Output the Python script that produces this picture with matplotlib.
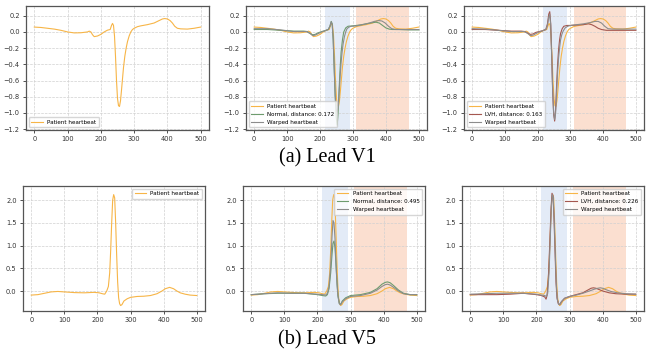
import matplotlib
matplotlib.use("Agg")
import matplotlib.pyplot as plt

# ---------------- data ----------------
v1_pat_x = [0,20,40,60,80,100,120,140,160,165,170,175,180,190,200,210,220,228,232,235,238,241,244,247,250,253,256,259,262,265,268,272,276,280,285,290,295,300,310,320,340,360,375,385,392,400,408,415,422,430,440,460,480,500]
v1_pat_y = [0.06,0.055,0.045,0.035,0.02,0.0,-0.012,-0.01,0.0,0.01,0.0,-0.035,-0.058,-0.05,-0.03,0.0,0.022,0.03,0.08,0.105,0.08,-0.05,-0.3,-0.6,-0.82,-0.91,-0.92,-0.85,-0.72,-0.58,-0.44,-0.3,-0.2,-0.12,-0.05,0.0,0.03,0.045,0.065,0.075,0.09,0.11,0.14,0.16,0.165,0.16,0.14,0.11,0.07,0.045,0.038,0.035,0.045,0.06]

v1_norm_x = [0,40,80,120,150,160,170,178,185,195,205,215,225,230,234,237,240,243,246,249,252,255,258,261,264,268,272,278,285,300,320,340,360,370,380,390,400,410,420,440,470,500]
v1_norm_y = [0.03,0.03,0.02,0.01,0.01,0.005,-0.02,-0.035,-0.03,-0.01,0.005,0.015,0.03,0.07,0.13,0.1,-0.1,-0.45,-0.8,-1.05,-1.15,-1.0,-0.7,-0.45,-0.25,-0.1,0.0,0.05,0.07,0.075,0.085,0.1,0.115,0.12,0.11,0.08,0.05,0.035,0.03,0.03,0.025,0.025]

v1_nwarp_x = [0,40,80,120,150,160,170,178,185,195,205,215,225,230,234,237,240,243,246,249,252,255,258,261,264,267,270,274,278,282,288,295,310,330,350,365,378,388,398,408,418,430,460,500]
v1_nwarp_y = [0.04,0.04,0.025,0.005,0.005,0.005,-0.02,-0.045,-0.04,-0.02,0.0,0.015,0.03,0.07,0.125,0.09,-0.1,-0.45,-0.78,-0.95,-0.99,-0.93,-0.75,-0.55,-0.38,-0.25,-0.15,-0.06,0.0,0.04,0.06,0.07,0.075,0.09,0.11,0.13,0.14,0.135,0.11,0.07,0.04,0.03,0.03,0.03]

v1_lvh_x = [0,40,80,120,150,160,170,178,186,195,205,215,225,230,234,237,240,243,246,249,252,255,258,261,264,267,270,275,280,290,300,320,340,355,365,375,385,395,410,440,470,500]
v1_lvh_y = [0.03,0.03,0.02,0.01,0.01,0.005,-0.015,-0.03,-0.025,-0.005,0.005,0.015,0.03,0.1,0.22,0.25,0.1,-0.3,-0.75,-1.02,-1.1,-0.95,-0.65,-0.4,-0.22,-0.1,-0.02,0.04,0.07,0.08,0.08,0.085,0.09,0.1,0.09,0.07,0.045,0.03,0.02,0.02,0.02,0.02]

v1_lwarp_x = [0,40,80,120,150,160,170,178,186,195,205,215,225,230,234,237,240,243,246,249,252,255,258,261,264,267,270,274,278,284,292,300,320,340,360,375,385,395,405,415,430,460,500]
v1_lwarp_y = [0.04,0.035,0.02,0.005,0.005,0.005,-0.02,-0.045,-0.04,-0.02,0.0,0.015,0.03,0.08,0.18,0.22,0.08,-0.3,-0.72,-1.0,-1.08,-1.0,-0.75,-0.5,-0.32,-0.2,-0.1,-0.03,0.01,0.05,0.07,0.08,0.09,0.1,0.115,0.13,0.13,0.11,0.07,0.04,0.035,0.035,0.035]

v5_pat_x = [0,20,40,60,80,100,130,160,190,205,215,222,228,233,237,240,243,246,249,252,255,258,261,264,267,270,274,280,290,300,320,340,360,380,395,405,418,430,440,450,465,480,500]
v5_pat_y = [-0.09,-0.08,-0.05,-0.02,-0.01,-0.02,-0.035,-0.04,-0.03,-0.04,-0.06,-0.07,0.0,0.1,0.4,0.9,1.5,2.0,2.12,2.05,1.5,0.8,0.2,-0.15,-0.28,-0.32,-0.3,-0.22,-0.17,-0.14,-0.12,-0.115,-0.1,-0.06,0.0,0.05,0.08,0.05,0.0,-0.04,-0.07,-0.09,-0.1]

v5_norm_x = [0,40,80,120,160,200,215,225,230,235,240,244,247,250,253,256,259,262,266,270,275,285,300,330,360,380,395,405,412,420,430,445,460,480,500]
v5_norm_y = [-0.08,-0.06,-0.05,-0.05,-0.05,-0.08,-0.1,-0.11,-0.08,0.05,0.4,0.8,1.05,1.1,0.95,0.6,0.2,-0.1,-0.27,-0.3,-0.22,-0.15,-0.1,-0.08,-0.03,0.05,0.15,0.19,0.2,0.18,0.12,0.02,-0.05,-0.08,-0.08]

v5_nwarp_x = [0,40,80,120,160,200,215,225,230,235,240,244,247,250,253,256,259,262,266,270,275,285,300,330,360,380,395,405,412,420,430,445,460,480,500]
v5_nwarp_y = [-0.08,-0.06,-0.04,-0.05,-0.05,-0.07,-0.08,-0.09,-0.05,0.1,0.55,1.2,1.55,1.5,1.15,0.6,0.15,-0.12,-0.28,-0.3,-0.24,-0.17,-0.12,-0.1,-0.05,0.02,0.1,0.14,0.15,0.13,0.08,0.0,-0.06,-0.08,-0.08]

v5_lvh_x = [0,40,80,120,160,200,215,225,229,232,236,240,244,247,250,253,256,259,262,266,270,275,285,300,320,340,355,365,372,380,390,400,420,440,470,500]
v5_lvh_y = [-0.08,-0.08,-0.08,-0.07,-0.05,-0.08,-0.1,-0.13,-0.18,-0.1,0.3,1.0,1.8,2.15,2.1,1.6,0.9,0.2,-0.15,-0.28,-0.3,-0.24,-0.16,-0.12,-0.08,-0.04,0.02,0.06,0.07,0.06,0.03,0.0,-0.04,-0.06,-0.07,-0.07]

v5_lwarp_x = [0,40,80,120,160,200,215,225,230,234,238,242,245,248,251,254,257,260,263,267,271,276,285,300,320,340,360,375,385,393,400,410,425,445,470,500]
v5_lwarp_y = [-0.07,-0.06,-0.05,-0.05,-0.05,-0.07,-0.09,-0.1,-0.12,-0.05,0.4,1.2,1.85,2.12,2.05,1.5,0.8,0.15,-0.18,-0.29,-0.3,-0.23,-0.16,-0.12,-0.09,-0.05,0.0,0.04,0.06,0.07,0.06,0.03,-0.01,-0.04,-0.06,-0.07]

qrs_span = (215, 291)
t_span = (310, 470)
dist_v1 = [0.172, 0.163]
dist_v5 = [0.495, 0.226]
captions = ["(a) Lead V1", "(b) Lead V5"]

# ---------------- style ----------------
C_PAT = "#f7b547"
C_NORM = "#6e9c6e"
C_LVH = "#a5574f"
C_WARP = "#8c8c8c"
C_BLUE = "#e3ebf7"
C_ORANGE = "#fbdfd0"

fig = plt.figure(figsize=(6.54, 3.58), dpi=100)
W, H = 654, 358

def mk_ax(l, t, r, b):
    return fig.add_axes([l / W, 1 - b / H, (r - l) / W, (b - t) / H])

def style(ax, ylim, yticks):
    ax.set_xlim(-25, 525)
    ax.set_ylim(*ylim)
    ax.set_xticks([0, 100, 200, 300, 400, 500])
    ax.set_yticks(yticks)
    ax.tick_params(labelsize=4.8, length=2.5, width=0.6, pad=2, colors="#333333")
    ax.grid(True, linestyle="--", linewidth=0.5, color="#d0d0d0")
    ax.set_axisbelow(True)
    for s in ax.spines.values():
        s.set_color("#555555")
        s.set_linewidth(0.9)

def spans(ax):
    ax.axvspan(*qrs_span, color=C_BLUE, zorder=0.5, lw=0)
    ax.axvspan(*t_span, color=C_ORANGE, zorder=0.5, lw=0)

v1_ylim = (-1.21, 0.32)
v1_ticks = [0.2, 0.0, -0.2, -0.4, -0.6, -0.8, -1.0, -1.2]
v5_ylim = (-0.44, 2.31)
v5_ticks = [0.0, 0.5, 1.0, 1.5, 2.0]
leg_kw = dict(fontsize=4.1, frameon=True, framealpha=0.8, edgecolor="#cccccc",
              handlelength=2.0, borderpad=0.45, labelspacing=0.5, handletextpad=0.8)
lw = 0.8

# top row
ax = mk_ax(26, 6, 209, 130)
ax.plot(v1_pat_x, v1_pat_y, color=C_PAT, lw=lw, label="Patient heartbeat")
style(ax, v1_ylim, v1_ticks)
ax.legend(loc="lower left", **leg_kw)

ax = mk_ax(246, 6, 427, 130)
spans(ax)
ax.plot(v1_pat_x, v1_pat_y, color=C_PAT, lw=lw, label="Patient heartbeat")
ax.plot(v1_norm_x, v1_norm_y, color=C_NORM, lw=lw, label=f"Normal, distance: {dist_v1[0]:.3f}")
ax.plot(v1_nwarp_x, v1_nwarp_y, color=C_WARP, lw=lw, label="Warped heartbeat")
style(ax, v1_ylim, v1_ticks)
ax.legend(loc="lower left", **leg_kw)

ax = mk_ax(464, 6, 644, 130)
spans(ax)
ax.plot(v1_pat_x, v1_pat_y, color=C_PAT, lw=lw, label="Patient heartbeat")
ax.plot(v1_lvh_x, v1_lvh_y, color=C_LVH, lw=lw, label=f"LVH, distance: {dist_v1[1]:.3f}")
ax.plot(v1_lwarp_x, v1_lwarp_y, color=C_WARP, lw=lw, label="Warped heartbeat")
style(ax, v1_ylim, v1_ticks)
ax.legend(loc="lower left", **leg_kw)

# bottom row
ax = mk_ax(23, 186, 205, 311)
ax.plot(v5_pat_x, v5_pat_y, color=C_PAT, lw=lw, label="Patient heartbeat")
style(ax, v5_ylim, v5_ticks)
ax.legend(loc="upper right", **leg_kw)

ax = mk_ax(243, 186, 425, 311)
spans(ax)
ax.plot(v5_pat_x, v5_pat_y, color=C_PAT, lw=lw, label="Patient heartbeat")
ax.plot(v5_norm_x, v5_norm_y, color=C_NORM, lw=lw, label=f"Normal, distance: {dist_v5[0]:.3f}")
ax.plot(v5_nwarp_x, v5_nwarp_y, color=C_WARP, lw=lw, label="Warped heartbeat")
style(ax, v5_ylim, v5_ticks)
ax.legend(loc="upper right", **leg_kw)

ax = mk_ax(462, 186, 644, 311)
spans(ax)
ax.plot(v5_pat_x, v5_pat_y, color=C_PAT, lw=lw, label="Patient heartbeat")
ax.plot(v5_lvh_x, v5_lvh_y, color=C_LVH, lw=lw, label=f"LVH, distance: {dist_v5[1]:.3f}")
ax.plot(v5_lwarp_x, v5_lwarp_y, color=C_WARP, lw=lw, label="Warped heartbeat")
style(ax, v5_ylim, v5_ticks)
ax.legend(loc="upper right", **leg_kw)

fig.text(0.5, 1 - 158 / H, captions[0], ha="center", va="center",
         fontsize=14.5, family="Liberation Serif")
fig.text(0.5, 1 - 340 / H, captions[1], ha="center", va="center",
         fontsize=14.5, family="Liberation Serif")

fig.savefig("out.png", dpi=100)
